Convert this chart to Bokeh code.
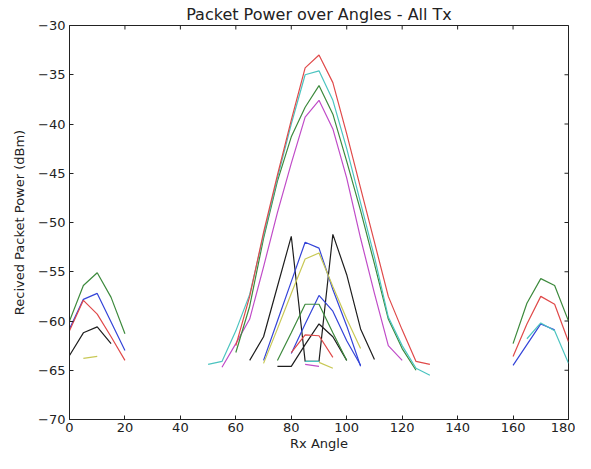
from bokeh.plotting import figure
from bokeh.models import Range1d, FixedTicker
from bokeh.embed import file_html
from bokeh.resources import INLINE

# ---------------- data ----------------
x_ticks = [0, 20, 40, 60, 80, 100, 120, 140, 160, 180]
y_ticks = [-70, -65, -60, -55, -50, -45, -40, -35, -30]

# left group (Rx 0-20)
l_green_x = [0, 5, 10, 15, 20]
l_green_y = [-60.0, -56.4, -55.1, -57.6, -61.3]
l_blue_x = [0, 5, 10, 15, 20]
l_blue_y = [-60.8, -57.8, -57.2, -60.1, -63.0]
l_red_x = [0, 5, 10, 15, 20]
l_red_y = [-61.0, -57.9, -59.3, -61.6, -64.0]
l_black_x = [0, 5, 10, 15]
l_black_y = [-63.5, -61.2, -60.6, -62.3]
l_yellow_x = [5, 10]
l_yellow_y = [-63.8, -63.6]

# right group (Rx 160-180)
r_green_x = [160, 165, 170, 175, 180]
r_green_y = [-62.3, -58.2, -55.7, -56.4, -60.0]
r_red_x = [160, 165, 170, 175, 180]
r_red_y = [-63.6, -60.3, -57.5, -58.3, -62.1]
r_blue_x = [160, 165, 170, 175]
r_blue_y = [-64.5, -62.4, -60.3, -60.9]
r_cyan_x = [165, 170, 175, 180]
r_cyan_y = [-61.8, -60.2, -61.0, -64.3]

# main lobe
b_red_x = [60, 65, 70, 75, 80, 85, 90, 95, 100, 105, 110, 115, 120, 125, 130]
b_red_y = [-62.5, -57.5, -51.0, -45.2, -39.6, -34.3, -33.0, -35.8, -41.0,
           -46.5, -52.0, -57.5, -60.9, -64.1, -64.4]
b_cyan_x = [50, 55, 60, 65, 70, 75, 80, 85, 90, 95, 100, 105, 110, 115, 120, 125, 130]
b_cyan_y = [-64.4, -64.1, -61.0, -57.3, -51.3, -45.5, -40.0, -35.0, -34.6, -37.6,
            -42.5, -48.0, -53.5, -59.6, -62.5, -64.8, -65.5]
b_green_x = [60, 65, 70, 75, 80, 85, 90, 95, 100, 105, 110, 115, 120, 125]
b_green_y = [-63.2, -58.5, -51.6, -45.8, -41.3, -38.3, -36.1, -39.0, -43.8,
             -48.8, -54.2, -59.8, -62.8, -65.0]
b_magenta_x = [55, 60, 65, 70, 75, 80, 85, 90, 95, 100, 105, 110, 115, 120]
b_magenta_y = [-64.7, -62.3, -59.8, -54.5, -49.0, -44.0, -39.3, -37.6, -40.5,
               -45.5, -51.6, -57.2, -62.5, -64.0]

# small lobes
s_black_x = [65, 70, 75, 80, 85, 90, 95, 100, 105, 110]
s_black_y = [-64.0, -61.6, -56.5, -51.4, -64.1, -64.1, -51.2, -55.3, -60.8, -63.9]
s_black2_x = [75, 80, 85, 90, 95, 100]
s_black2_y = [-64.6, -64.6, -62.4, -60.3, -61.6, -64.0]
s_blue_x = [70, 75, 80, 85, 90, 95, 100, 105]
s_blue_y = [-64.0, -60.0, -56.0, -52.0, -52.6, -56.8, -60.5, -64.6]
s_blue2_x = [80, 85, 90, 95, 100, 105]
s_blue2_y = [-63.3, -60.3, -57.4, -59.0, -62.0, -64.5]
s_yellow_x = [70, 75, 80, 85, 90, 95, 100, 105]
s_yellow_y = [-64.3, -60.8, -57.2, -53.7, -53.1, -56.5, -59.8, -62.8]
s_green_x = [75, 80, 85, 90, 95, 100]
s_green_y = [-64.0, -61.2, -58.3, -58.3, -61.2, -64.0]
s_red_x = [80, 85, 90, 95]
s_red_y = [-63.2, -61.4, -61.5, -63.7]
s_magenta_x = [85, 90]
s_magenta_y = [-64.4, -64.6]
s_cyan_x = [85, 90]
s_cyan_y = [-64.1, -64.1]
s_yellow2_x = [90, 95]
s_yellow2_y = [-64.2, -64.8]

# ---------------- styles ----------------
BLUE = "#3444d8"
GREEN = "#3d8a3d"
RED = "#e04a4a"
CYAN = "#4cc4c0"
MAGENTA = "#c04cc8"
YELLOW = "#c8c855"
BLACK = "#1e1e1e"
INK = "#222222"

series = [
    (l_green_x, l_green_y, GREEN), (l_blue_x, l_blue_y, BLUE),
    (l_red_x, l_red_y, RED), (l_black_x, l_black_y, BLACK),
    (l_yellow_x, l_yellow_y, YELLOW),
    (r_green_x, r_green_y, GREEN), (r_red_x, r_red_y, RED),
    (r_blue_x, r_blue_y, BLUE), (r_cyan_x, r_cyan_y, CYAN),
    (s_black_x, s_black_y, BLACK), (s_black2_x, s_black2_y, BLACK),
    (s_blue_x, s_blue_y, BLUE), (s_blue2_x, s_blue2_y, BLUE),
    (s_yellow_x, s_yellow_y, YELLOW), (s_green_x, s_green_y, GREEN),
    (s_red_x, s_red_y, RED), (s_magenta_x, s_magenta_y, MAGENTA),
    (s_cyan_x, s_cyan_y, CYAN), (s_yellow2_x, s_yellow2_y, YELLOW),
    (b_magenta_x, b_magenta_y, MAGENTA), (b_green_x, b_green_y, GREEN),
    (b_cyan_x, b_cyan_y, CYAN), (b_red_x, b_red_y, RED),
]

FONT = "DejaVu Sans"

p = figure(width=575, height=453, output_backend="svg", toolbar_location=None,
           x_range=Range1d(0, 180), y_range=Range1d(-70, -30),
           title="Packet Power over Angles - All Tx",
           min_border_left=69, min_border_right=7, min_border_top=25,
           min_border_bottom=34)

p.title.align = "center"
p.title.text_font = FONT
p.title.text_font_size = "16px"
p.title.text_font_style = "normal"
p.title.text_color = INK
p.title.offset = 0
p.title.standoff = 4

p.grid.visible = False
p.outline_line_color = INK
p.outline_line_width = 1
p.background_fill_color = "white"
p.border_fill_color = "white"

for xs, ys, c in series:
    p.line(xs, ys, line_color=c, line_width=1.2)

# inward ticks on the top and right edges of the frame
p.scatter(x=x_ticks, y=[p.y_range.end] * len(x_ticks), marker="dash",
          angle=1.5707963, size=8, line_color=INK, line_width=1)
p.scatter(x=[p.x_range.end] * len(y_ticks), y=y_ticks, marker="dash",
          size=8, line_color=INK, line_width=1)

def style_axis(ax):
    ax.major_tick_in = 4
    ax.major_tick_out = 0
    ax.minor_tick_in = 0
    ax.minor_tick_out = 0
    ax.axis_line_color = INK
    ax.major_tick_line_color = INK
    ax.major_label_text_font = FONT
    ax.major_label_text_font_size = "13px"
    ax.major_label_text_color = INK
    ax.axis_label_text_font = FONT
    ax.axis_label_text_font_size = "13px"
    ax.axis_label_text_font_style = "normal"
    ax.axis_label_text_color = INK

xa = p.xaxis[0]
xa.ticker = FixedTicker(ticks=x_ticks)
xa.axis_label = "Rx Angle"
xa.major_label_standoff = 3
xa.axis_label_standoff = 1
style_axis(xa)

ya = p.yaxis[0]
ya.ticker = FixedTicker(ticks=y_ticks)
ya.major_label_overrides = {v: "\u2212" + str(abs(v)) for v in y_ticks}
ya.axis_label = "Recived Packet Power (dBm)"
ya.major_label_standoff = 4
ya.axis_label_standoff = 8
style_axis(ya)

open("out.html", "w").write(file_html(p, INLINE))
